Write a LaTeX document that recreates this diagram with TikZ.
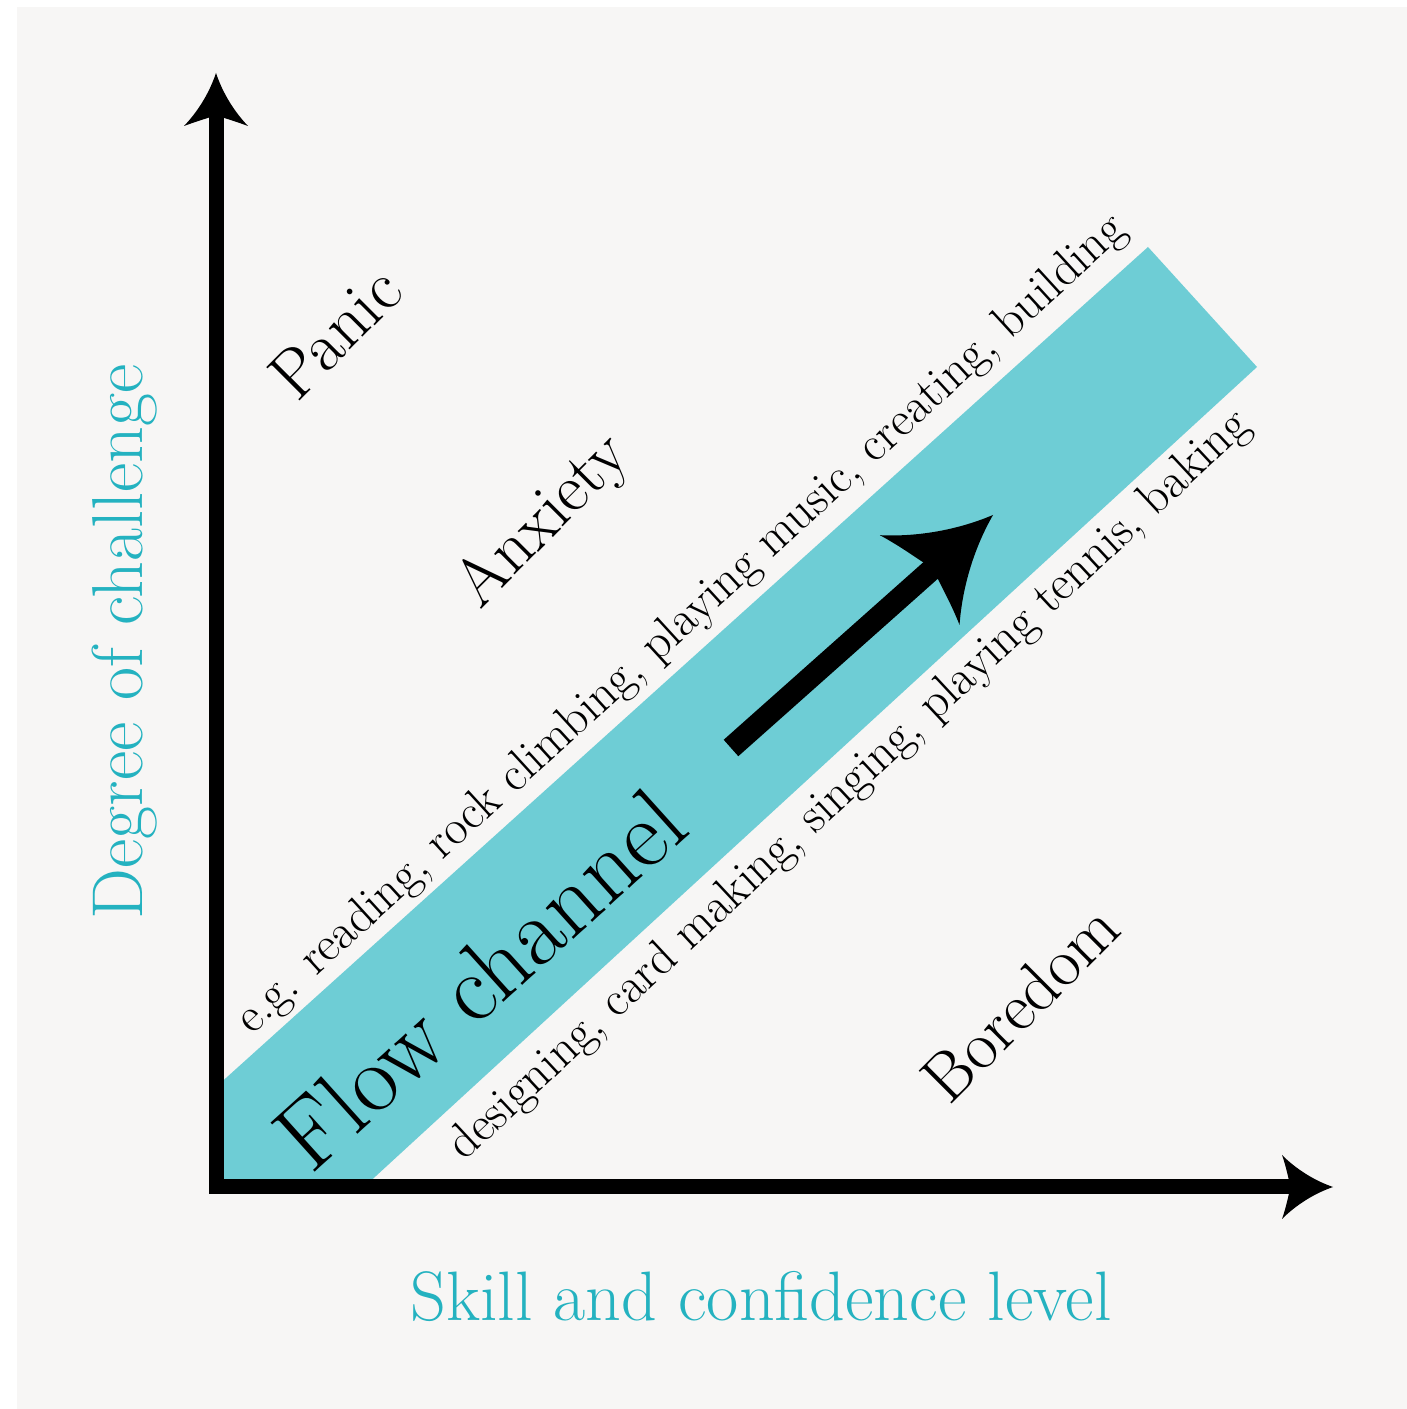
\documentclass[tikz,border=0pt]{standalone}
\usetikzlibrary{calc}
\definecolor{bggrey}{RGB}{247,246,245}
\definecolor{bandteal}{RGB}{110,205,213}
\definecolor{labteal}{RGB}{36,178,192}
\newcommand\arrtip[5]{\fill[shift={#1},rotate=#2] (0,0) .. controls ({-0.4*#3},{0.22*#4}) and ({-0.75*#3},{0.6*#4}) .. ({-#3},{#4}) .. controls ({-0.9*#3},{0.55*#4}) and ({-#5-0.05*#3},{0.2*#4}) .. ({-#5},0) .. controls ({-#5-0.05*#3},{-0.2*#4}) and ({-0.9*#3},{-0.55*#4}) .. ({-#3},{-#4}) .. controls ({-0.75*#3},{-0.6*#4}) and ({-0.4*#3},{-0.22*#4}) .. (0,0) -- cycle;}
\tikzset{
  axlab/.style={text=labteal, inner sep=0pt, font=\fontsize{70}{76}\selectfont},
  zone/.style={text=black, inner sep=0pt, font=\fontsize{68}{74}\selectfont},
  flowtxt/.style={text=black, inner sep=0pt, font=\fontsize{97}{105}\selectfont},
  egtxt/.style={text=black, inner sep=0pt, font=\fontsize{49}{55}\selectfont},
  axisline/.style={line width=15pt, line join=miter, draw=black},
}
\begin{document}
\begin{tikzpicture}[x=1pt,y=1pt]
\useasboundingbox (0,0) rectangle (1407,1409);
\fill[white] (0,0) rectangle (1407,1409);
\fill[bggrey] (17,0) rectangle (1407,1402);
% flow band
\fill[bandteal] (216,322) -- (1148,1162) -- (1257,1042) -- (364,222) -- (216,222) -- cycle;
% axes
\coordinate (origin) at (216,222);
\coordinate (ytip) at (216,1336);
\coordinate (xtip) at (1333,222);
\draw[axisline] ($(ytip)+(0,-40)$) -- (origin) -- ($(xtip)+(-40,0)$);
\arrtip{(ytip)}{90}{53}{32}{42}
\arrtip{(xtip)}{0}{51}{32}{42}
% flow arrow
\coordinate (ftail) at (731,661);
\coordinate (ftip) at (993,894);
\draw[line width=22pt] (ftail) -- ($(ftip)!76pt!(ftail)$);
\arrtip{(ftip)}{41.6}{98}{60}{80}
% labels
\node[axlab, rotate=90, anchor=base, font=\fontsize{72}{78}\selectfont] (ylab) at (142,767) {Degree of challenge};
\node[axlab, anchor=base] (xlab) at (761,88) {Skill and confidence level};
\node[zone, rotate=45, font=\fontsize{69}{75}\selectfont] (panic) at (335,1076) {Panic};
\node[zone, rotate=45] (anx) at (544,887) {Anxiety};
\node[zone, rotate=45] (bor) at (1020,406) {Boredom};
\node[flowtxt, rotate=42] (flow) at (480,430) {Flow channel};
\node[egtxt, rotate=42.5] (up) at (682,784) {e.g. reading, rock climbing, playing music, creating, building};
\node[egtxt, rotate=43] (low) at (850,623) {designing, card making, singing, playing tennis, baking};
\end{tikzpicture}
\end{document}
